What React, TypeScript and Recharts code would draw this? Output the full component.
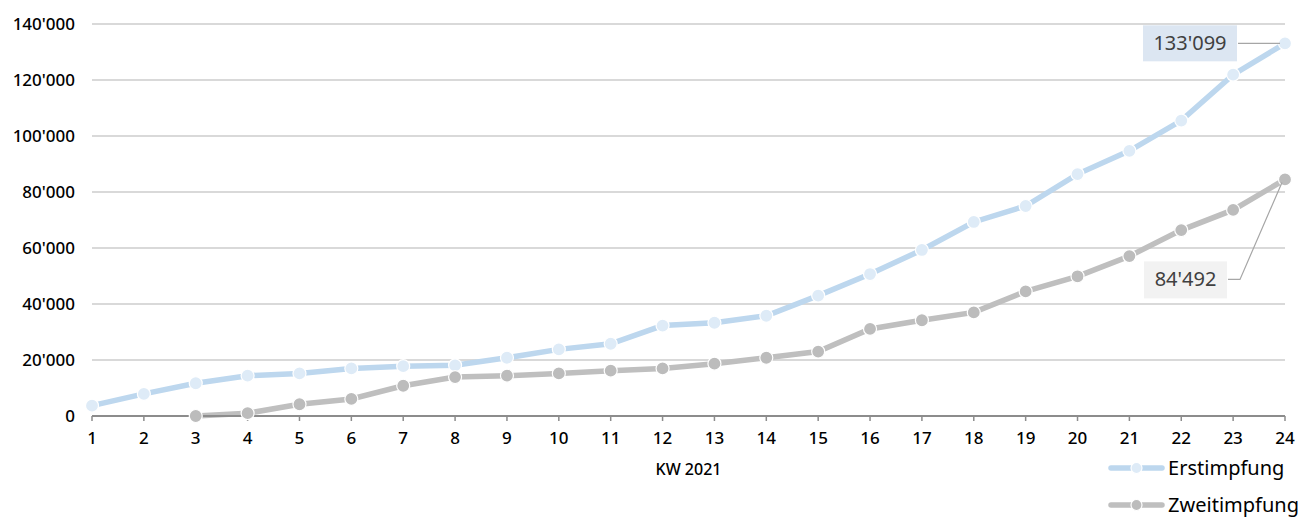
import { CartesianGrid, LabelList, Legend, Line, LineChart, XAxis, YAxis } from 'recharts';

const weeks = [1, 2, 3, 4, 5, 6, 7, 8, 9, 10, 11, 12, 13, 14, 15, 16, 17, 18, 19, 20, 21, 22, 23, 24];
const erstimpfung = [
  3700, 7900, 11700, 14400, 15200, 17000, 17800, 18100, 20800, 23800, 25800, 32300,
  33300, 35800, 43000, 50700, 59300, 69300, 75000, 86400, 94700, 105500, 121900, 133099,
];
const zweitimpfung = [
  null, null, 0, 1000, 4200, 6100, 10800, 13900, 14400, 15200, 16200, 17000,
  18700, 20800, 23000, 31100, 34200, 37000, 44500, 49900, 57100, 66400, 73600, 84492,
];
const yTicks = [0, 20000, 40000, 60000, 80000, 100000, 120000, 140000];

const data = weeks.map((week, i) => ({
  week,
  Erstimpfung: erstimpfung[i],
  Zweitimpfung: zweitimpfung[i],
}));

const FONT = '"Noto Sans", "Open Sans", sans-serif';
const LAST = weeks.length - 1;

const COLORS: Record<string, { line: string; dot: string; box: string }> = {
  Erstimpfung: { line: '#bdd7ee', dot: '#deebf7', box: '#dce6f2' },
  Zweitimpfung: { line: '#bfbfbf', dot: '#bcbcbc', box: '#f2f2f2' },
};

const fmt = (n: number) => String(n).replace(/\B(?=(\d{3})+(?!\d))/g, "'");

/* eslint-disable @typescript-eslint/no-explicit-any */
function ErstLabel({ x, y, index, value }: any) {
  if (index !== LAST || value == null) return null;
  const right = x - 48;
  return (
    <g>
      <line x1={right + 1} y1={y} x2={x - 5} y2={y} stroke="#a6a6a6" strokeWidth={1.2} />
      <rect x={right - 94} y={y - 18} width={94} height={36} fill={COLORS.Erstimpfung.box} />
      <text x={right - 47} y={y + 7} textAnchor="middle" fontFamily={FONT} fontSize={20} fill="#404040">
        {fmt(value)}
      </text>
    </g>
  );
}

function ZweitLabel({ x, y, index, value }: any) {
  if (index !== LAST || value == null) return null;
  const right = x - 58;
  const cy = y + 100;
  return (
    <g>
      <polyline
        points={`${right + 1},${cy} ${x - 45},${cy} ${x - 3},${y + 3}`}
        fill="none"
        stroke="#a6a6a6"
        strokeWidth={1.2}
      />
      <rect x={right - 83} y={cy - 18} width={83} height={37} fill={COLORS.Zweitimpfung.box} />
      <text x={right - 41.5} y={cy + 7} textAnchor="middle" fontFamily={FONT} fontSize={20} fill="#404040">
        {fmt(value)}
      </text>
    </g>
  );
}

function LegendContent({ payload }: any) {
  return (
    <div style={{ height: 76, display: 'flex', justifyContent: 'flex-end' }}>
      <div style={{ paddingTop: 7 }}>
        {(payload || []).map((p: any) => {
          const c = COLORS[p.value];
          return (
            <div
              key={p.value}
              style={{ display: 'flex', alignItems: 'center', height: 37, lineHeight: '37px' }}
            >
              <svg width={57} height={14} style={{ marginRight: 3 }}>
                <line x1={3} y1={7} x2={54} y2={7} stroke={c.line} strokeWidth={5.5} strokeLinecap="round" />
                <circle cx={28.5} cy={7} r={5.5} fill={c.dot} stroke="#fff" strokeWidth={1.2} />
              </svg>
              <span style={{ fontFamily: FONT, fontSize: 20, color: '#000' }}>{p.value}</span>
            </div>
          );
        })}
      </div>
    </div>
  );
}

export default function App() {
  const tickStyle = { fill: '#000', fontSize: 17, fontFamily: FONT, fontWeight: 500 };
  return (
    <div style={{ position: 'absolute', left: 0, top: 0, width: 1303, height: 518, overflow: 'hidden', background: '#fff' }}>
      <LineChart width={1303} height={518} data={data} margin={{ top: 24, right: 18, bottom: 0, left: 0 }}>
        <CartesianGrid stroke="#d9d9d9" strokeWidth={2} vertical={false} />
        <XAxis
          dataKey="week"
          height={26}
          tick={tickStyle}
          tickSize={5}
          tickMargin={11}
          tickLine={{ stroke: '#8c8c8c', strokeWidth: 1.5 }}
          axisLine={{ stroke: '#8c8c8c', strokeWidth: 2 }}
          interval={0}
          label={{ value: 'KW 2021', position: 'bottom', offset: 22, fill: '#000', fontSize: 16, fontWeight: 500, fontFamily: FONT }}
        />
        <YAxis
          domain={[0, 140000]}
          ticks={yTicks}
          tickFormatter={fmt}
          tick={tickStyle}
          tickMargin={11}
          axisLine={false}
          tickLine={false}
          width={92}
        />
        <Legend verticalAlign="bottom" align="right" wrapperStyle={{ right: 4 }} content={<LegendContent />} />
        <Line
          type="linear"
          dataKey="Erstimpfung"
          stroke={COLORS.Erstimpfung.line}
          strokeWidth={5.5}
          dot={{ r: 6.5, fill: COLORS.Erstimpfung.dot, stroke: '#fff', strokeWidth: 1.2 }}
          isAnimationActive={false}
        >
          <LabelList dataKey="Erstimpfung" content={<ErstLabel />} />
        </Line>
        <Line
          type="linear"
          dataKey="Zweitimpfung"
          stroke={COLORS.Zweitimpfung.line}
          strokeWidth={5.5}
          dot={{ r: 6.5, fill: COLORS.Zweitimpfung.dot, stroke: '#fff', strokeWidth: 1.2 }}
          isAnimationActive={false}
        >
          <LabelList dataKey="Zweitimpfung" content={<ZweitLabel />} />
        </Line>
      </LineChart>
    </div>
  );
}
